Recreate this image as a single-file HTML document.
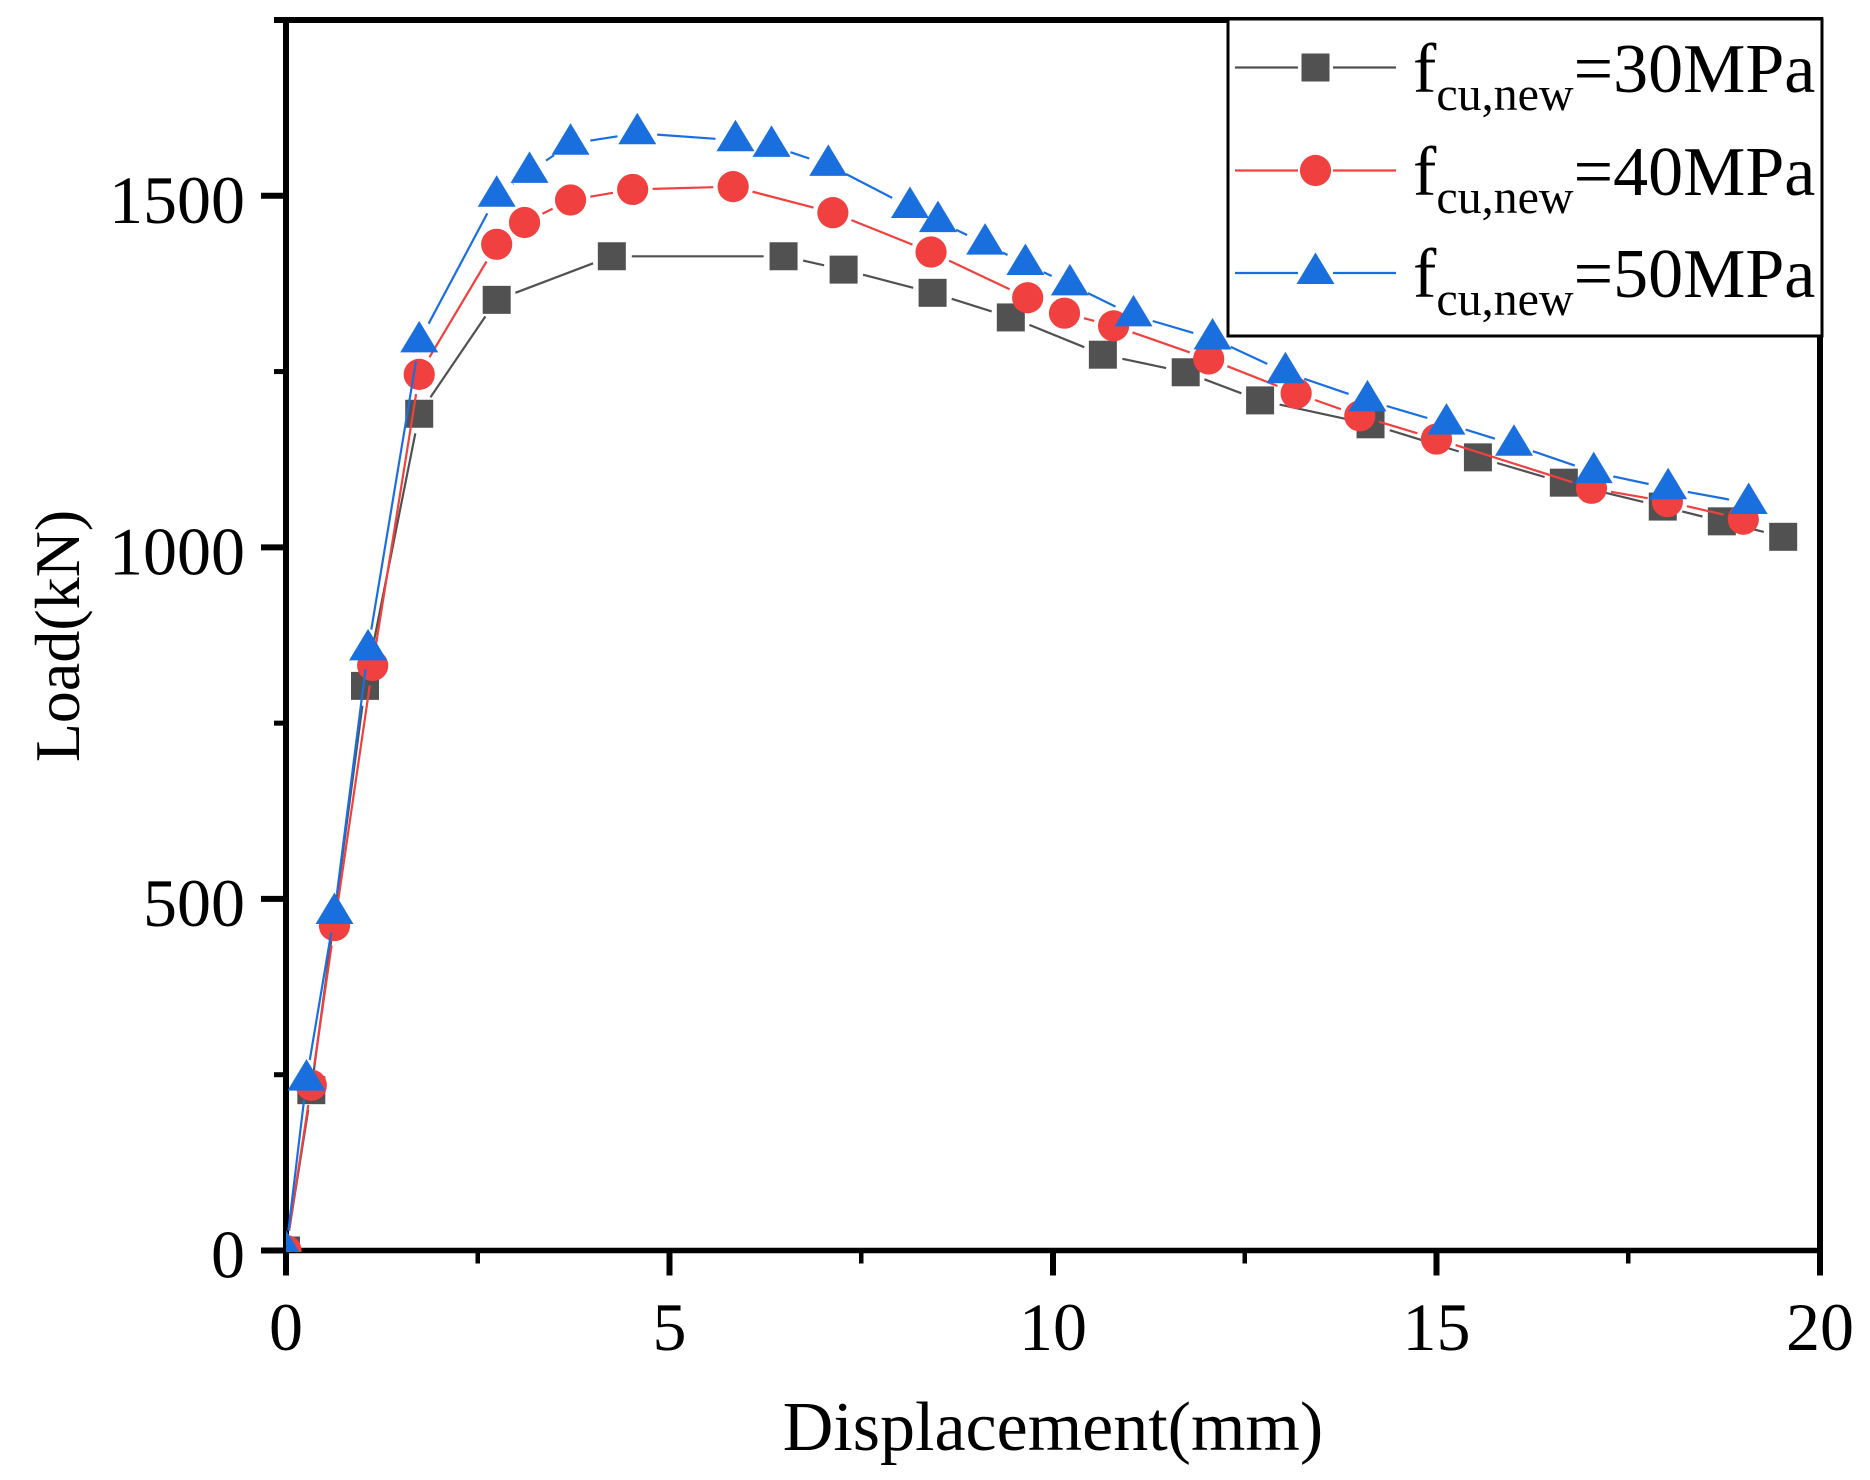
<!DOCTYPE html>
<html lang="en">
<head>
<meta charset="utf-8">
<title>Load-displacement chart</title>
<style>
html,body{margin:0;padding:0;background:#fff;}
body{width:1870px;height:1480px;overflow:hidden;}
svg{display:block;}
text{font-family:"Liberation Serif","Times New Roman",serif;fill:#000;}
</style>
</head>
<body>
<svg id="chart" xmlns="http://www.w3.org/2000/svg" width="1870" height="1480" viewBox="0 0 1870 1480">
  <defs>
    <clipPath id="plot-clip"><rect x="286" y="20" width="1537" height="1232"></rect></clipPath>
  </defs>
  <rect x="0" y="0" width="1870" height="1480" fill="#fff"></rect>
  <g id="axes"></g>
  <g id="series" clip-path="url(#plot-clip)"></g>

  <text x="1053" y="1450" font-size="70" text-anchor="middle">Displacement(mm)</text>
  <text transform="translate(79 636) rotate(-90)" font-size="64" text-anchor="middle">Load(kN)</text>

  <g id="legend">
    <rect x="1228" y="19" width="594" height="317" fill="#fff" stroke="#000" stroke-width="3"></rect>
    <g>
      <text x="1413" y="92" font-size="70">f<tspan font-size="48" dy="18">cu,new</tspan><tspan dy="-18">=30MPa</tspan></text>
    </g>
    <g>
      <text x="1413" y="195" font-size="70">f<tspan font-size="48" dy="18">cu,new</tspan><tspan dy="-18">=40MPa</tspan></text>
    </g>
    <g>
      <text x="1413" y="297" font-size="70">f<tspan font-size="48" dy="18">cu,new</tspan><tspan dy="-18">=50MPa</tspan></text>
    </g>
  </g>
</svg>
<script>
// Chart data
const xTickLabels = [0, 5, 10, 15, 20];
const xMinorTicks = [2.5, 7.5, 12.5, 17.5];
const yTickLabels = [0, 500, 1000, 1500];
const yMinorTicks = [250, 750, 1250, 1750];
const seriesNames = ['30mpa', '40mpa', '50mpa'];

const disp30 = [0, 0.33, 1.03, 1.737, 2.747, 4.248, 6.487, 7.27, 8.43, 9.45, 10.65, 11.73, 12.70, 14.14, 15.54, 16.66, 17.95, 18.72, 19.52];
const load30 = [0, 228, 803, 1190, 1352, 1414, 1414, 1395, 1362, 1327, 1274, 1249, 1209, 1175, 1128, 1092, 1058, 1037, 1015];

const disp40 = [0, 0.33, 0.632, 1.13, 1.737, 2.747, 3.11, 3.71, 4.52, 5.83, 7.13, 8.41, 9.67, 10.15, 10.79, 12.03, 13.17, 14.0, 15.0, 17.02, 18.01, 19.0];
const load40 = [0, 235, 462, 832, 1246, 1431, 1462, 1494, 1509, 1513, 1476, 1420, 1355, 1333, 1315, 1268, 1219, 1187, 1154, 1084, 1065, 1040];

const disp50 = [0, 0.267, 0.632, 1.07, 1.737, 2.747, 3.175, 3.71, 4.58, 5.86, 6.33, 7.07, 8.135, 8.50, 9.115, 9.64, 10.22, 11.05, 12.08, 13.03, 14.1, 15.13, 16.01, 17.05, 18.02, 19.07];
const load50 = [0, 243, 480, 855, 1293, 1500, 1534, 1574, 1589, 1579, 1571, 1544, 1484, 1464, 1432, 1403, 1374, 1330, 1297, 1249, 1209, 1176, 1146, 1107, 1084, 1063];

// Axis functions
const X0 = 286, X1 = 1820, XMAX = 20;
const Y0 = 1250.5, Y1 = 20, YMAX = 1750;
function xScale(v) { return X0 + (v / XMAX) * (X1 - X0); }
function yScale(v) { return Y0 - (v / YMAX) * (Y0 - Y1); }

const NS = 'http://www.w3.org/2000/svg';
function make(tag, parent) {
  const el = document.createElementNS(NS, tag);
  parent.appendChild(el);
  return el;
}
function setAll(el, props) {
  Object.keys(props).forEach(function (k) { el.setAttribute(k, props[k]); });
}

const axes = document.getElementById('axes');
const seriesGroup = document.getElementById('series');
const legend = document.getElementById('legend');

function drawLine(parent, x1, y1, x2, y2, w, name) {
  const el = make('line', parent);
  
  
  setAll(el, { x1: x1, y1: y1, x2: x2, y2: y2, stroke: '#000', 'stroke-width': w });
  return el;
}

// Spines
drawLine(axes, X0, Y1, X0, Y0 + 25, 6, 'y-axis-line');
drawLine(axes, X0 - 25, Y0, X1, Y0, 5.5, 'x-axis-line');
drawLine(axes, X0 - 12, Y1, X1 + 3, Y1, 6, 'top-axis-line');
drawLine(axes, X1, Y1, X1, Y0 + 25, 6, 'right-axis-line');

// Ticks and labels
xTickLabels.forEach(function (v) {
  const px = xScale(v);
  drawLine(axes, px, Y0, px, Y0 + 25, 6, 'x-major-tick');
  const t = make('text', axes);
  
  
  setAll(t, { x: px, y: 1350, 'font-size': 68, 'text-anchor': 'middle' });
  t.textContent = String(v);
});
xMinorTicks.forEach(function (v) {
  const px = xScale(v);
  drawLine(axes, px, Y0, px, Y0 + 13, 4.5, 'x-minor-tick');
});
yTickLabels.forEach(function (v) {
  const py = yScale(v);
  drawLine(axes, X0 - 25, py, X0, py, 6, 'y-major-tick');
  const t = make('text', axes);
  
  
  setAll(t, { x: 245, y: py + 27, 'font-size': 68, 'text-anchor': 'end' });
  t.textContent = String(v);
});
yMinorTicks.forEach(function (v) {
  const py = yScale(v);
  drawLine(axes, X0 - 12, py, X0, py, 5, 'y-minor-tick');
});

// Markers
function drawMarker(parent, kind, px, py, color, name) {
  let el;
  if (kind === 'square') {
    el = make('rect', parent);
    setAll(el, { x: px - 14, y: py - 14, width: 28, height: 28, fill: color });
  } else if (kind === 'circle') {
    el = make('circle', parent);
    setAll(el, { cx: px, cy: py, r: 15.6, fill: color });
  } else {
    el = make('polygon', parent);
    const pts = [[px, py - 20.5], [px + 19, py + 11], [px - 19, py + 11]];
    el.setAttribute('points', pts.map(function (p) { return p.join(','); }).join(' '));
    el.setAttribute('fill', color);
  }
  
  
  return el;
}

// Gapped polyline between symbols
function gappedPath(points, gap) {
  let d = '';
  for (let i = 0; i < points.length - 1; i++) {
    const a = points[i], b = points[i + 1];
    const dx = b[0] - a[0], dy = b[1] - a[1];
    const len = Math.hypot(dx, dy);
    if (len <= gap * 2) continue;
    const ux = dx / len, uy = dy / len;
    d += 'M' + (a[0] + ux * gap).toFixed(1) + ' ' + (a[1] + uy * gap).toFixed(1) +
         'L' + (b[0] - ux * gap).toFixed(1) + ' ' + (b[1] - uy * gap).toFixed(1);
  }
  return d;
}

function drawSeries(name, xs, ys, kind, color) {
  const g = make('g', seriesGroup);
  
  
  const pts = xs.map(function (v, i) { return [xScale(v), yScale(ys[i])]; });
  const path = make('path', g);
  
  
  setAll(path, { d: gappedPath(pts, 20), fill: 'none', stroke: color, 'stroke-width': 2.2 });
  pts.forEach(function (p) {
    drawMarker(g, kind, p[0], p[1], color, 'point-' + name);
  });
}

drawSeries(seriesNames[0], disp30, load30, 'square', '#515151');
drawSeries(seriesNames[1], disp40, load40, 'circle', '#F14040');
drawSeries(seriesNames[2], disp50, load50, 'triangle', '#1A6FDF');

// Legend keys
function legendKey(py, kind, color, name) {
  const left = make('line', legend);
  
  
  setAll(left, { x1: 1235, y1: py, x2: 1298, y2: py, stroke: color, 'stroke-width': 2.2 });
  const right = make('line', legend);
  
  
  setAll(right, { x1: 1333, y1: py, x2: 1396, y2: py, stroke: color, 'stroke-width': 2.2 });
  drawMarker(legend, kind, 1315.5, py, color, 'legend-symbol-' + name);
}
legendKey(67.5, 'square', '#515151', seriesNames[0]);
legendKey(170.5, 'circle', '#F14040', seriesNames[1]);
legendKey(273, 'triangle', '#1A6FDF', seriesNames[2]);
</script>
</body>
</html>
